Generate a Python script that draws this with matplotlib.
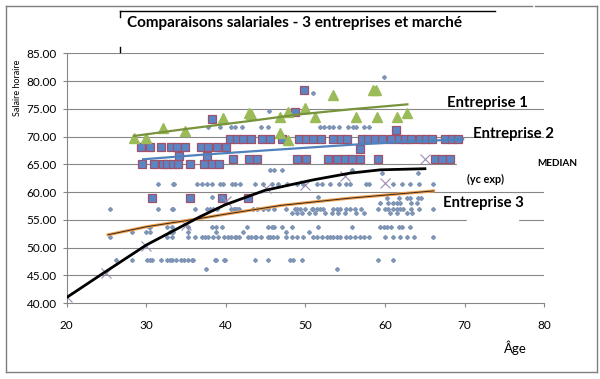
import matplotlib.pyplot as plt
from matplotlib.lines import Line2D
from matplotlib.patches import Rectangle

plt.rcParams["font.family"] = ["Lato", "DejaVu Sans"]

# market sample (small diamonds): one list of ages per salary level
market_levels = [80.7, 77.8, 74.65, 71.8, 64.0, 63.4, 61.4, 59.1, 58.9, 58.0, 57.0, 56.2, 53.75, 52.85, 51.85, 47.8, 46.1]
market_ages = [
    [59.9],
    [50.9],
    [45.4],
    [37.7, 39.2, 40.7, 41.1, 42.0, 44.4, 45.3, 51.8, 52.3, 53.0, 53.5, 54.2, 55.3, 56.0, 56.4, 57.3, 58.0],
    [45.5, 46.0, 47.0, 55.8],
    [59.6, 64.1],
    [31.5, 33.3, 33.5, 36.4, 37.0, 37.6, 38.3, 39.3, 39.6, 40.8, 41.1, 41.8, 43.7, 44.7, 45.8, 46.6,
     47.7, 48.9, 49.7, 51.5, 52.1, 53.1, 54.2, 55.1, 55.6, 57.6, 58.0, 61.0, 62.1, 63.1, 64.2, 66.0],
    [38.2, 51.6],
    [60.2, 61.8, 62.8, 63.1, 64.1, 64.5],
    [59.4, 60.4, 61.0, 61.5, 61.9, 63.2, 64.0],
    [25.4, 31.5, 33.2, 33.4, 36.1, 37.6, 38.0, 38.4, 38.9, 40.7, 41.0, 41.2, 41.4, 41.7, 43.4, 43.9,
     44.7, 45.3, 46.0, 47.6, 48.7, 48.9, 49.3, 49.9, 50.8, 51.0, 51.4, 51.8, 52.2, 53.5, 53.9, 54.3,
     55.1, 55.6, 56.2, 57.0, 59.1, 60.0, 60.4, 61.0, 61.5, 61.9, 62.3, 63.3, 64.2, 66.0],
    [48.3, 48.9, 49.5, 50.5, 51.2, 52.4, 53.3, 54.1, 55.0, 56.4, 57.3, 60.6, 61.5, 62.8, 63.4],
    [30.3, 30.5, 32.6, 33.2, 35.3, 38.2, 38.8, 39.5, 42.6, 45.3, 45.8, 46.0, 47.0, 48.3, 51.6,
     55.8, 59.4, 59.8, 60.2, 60.8, 61.7, 62.1, 63.1],
    [28.2, 29.9, 30.5, 33.0, 33.2, 33.4, 35.3, 38.8, 42.2, 47.6, 50.4],
    [25.4, 32.6, 33.2, 35.3, 36.1, 37.0, 37.4, 37.8, 38.4, 39.0, 39.7, 40.3, 40.7, 41.1, 41.3, 41.7,
     42.8, 43.2, 43.6, 43.8, 44.4, 45.3, 45.5, 45.9, 46.4, 47.6, 48.3, 48.9, 49.7, 51.0, 51.4, 52.1,
     52.7, 53.1, 53.5, 53.9, 54.3, 55.1, 55.6, 56.2, 56.8, 57.4, 58.0, 60.0, 61.0, 61.9, 62.7, 63.6, 66.0],
    [26.2, 28.2, 30.1, 30.5, 30.7, 31.8, 32.6, 33.0, 33.2, 33.7, 34.3, 34.7, 35.3, 35.7, 35.9,
     38.6, 38.8, 39.7, 39.9, 43.7, 45.3, 48.0, 48.4, 49.5, 59.1, 61.0],
    [37.5, 53.9],
]

# Entreprise 1 (triangles)
e1_age = [28.45, 29.9, 32.05, 34.8, 39.6, 42.9, 43.2, 46.8, 47.8, 49.9, 51.2, 53.5, 46.8, 47.8,
          58.5, 58.9, 56.4, 59.0, 61.5, 62.8]
e1_sal = [69.8, 69.7, 71.5, 71.05, 73.3, 74.2, 74.0, 73.6, 74.4, 75.1, 73.6, 77.5, 70.7, 69.4,
          78.4, 78.4, 73.6, 73.6, 73.6, 74.3]
e1_trend_age = [28.45, 34.65, 43.0, 49.3, 55.6, 62.8]
e1_trend_sal = [70.1, 71.3, 72.8, 74.0, 74.9, 75.8]

# Entreprise 2 (squares)
e2_rows = {
    68.1: [29.3, 30.5, 31.8, 33.1, 33.9, 34.9, 36.9, 37.8, 38.9, 40.0],
    65.0: [29.5, 31.0, 32.1, 32.6, 33.4, 34.0, 35.5, 37.3, 38.2, 39.1],
    66.5: [34.1, 37.6],
    69.55: [40.5, 41.4, 42.2, 43.1, 44.5, 45.5, 47.1, 49.2, 50.1, 51.0, 52.0, 53.5, 54.4, 55.2,
            57.1, 57.9, 58.7, 59.6, 60.8, 61.7, 62.5, 63.3, 64.4, 65.2, 65.9, 67.5, 68.4, 69.2],
    66.0: [40.9, 42.9, 43.9, 48.9, 50.1, 52.8, 53.9, 54.9, 55.9, 56.8, 59.1, 66.3, 67.2, 68.2],
    59.0: [30.7, 35.5, 39.5, 42.8],
}
e2_extra_age = [38.2, 49.85, 48.7, 61.4, 56.8]
e2_extra_sal = [73.2, 78.4, 74.5, 71.2, 67.7]
e2_trend_age = [29.6, 36.8, 45.0, 55.6, 63.0, 69.8]
e2_trend_sal = [65.9, 66.7, 67.5, 68.5, 69.1, 69.5]

# Entreprise 3 trend
e3_trend_age = [25.2, 30.05, 36.8, 39.9, 47.0, 55.6, 66.1]
e3_trend_sal = [52.3, 53.75, 55.25, 56.0, 57.6, 58.9, 60.2]

# market median by age (x markers) and its trend
med_age = [20, 25, 30, 35, 40, 45, 50, 55, 60, 65]
med_sal = [41.0, 45.4, 50.3, 54.0, 58.4, 60.8, 61.3, 62.9, 61.7, 66.0]
med_trend_age = [20, 24.2, 30.0, 36.75, 39.9, 44.9, 51.0, 55.6, 59.4, 65.0]
med_trend_sal = [41.0, 45.0, 50.45, 55.55, 57.7, 60.3, 62.2, 63.4, 64.0, 64.2]

W, H = 600, 379
fig = plt.figure(figsize=(W / 100, H / 100), dpi=100)
ax = fig.add_axes([66.7 / W, 1 - 303 / H, (544.3 - 66.7) / W, (303 - 53.3) / H])


def px(x, y):
    return x / W, 1 - y / H


grey = "#868686"
for level in range(45, 90, 5):
    ax.axhline(level, color=grey, lw=0.8, zorder=0)
ax.add_patch(Rectangle((69.0, 64.6), 11.2, 0.8, color="white", zorder=0.5, clip_on=False))
ax.add_patch(Rectangle((70.3, 54.6), 6.4, 0.8, color="white", zorder=0.5))

for level, ages in zip(market_levels, market_ages):
    ax.plot(ages, [level] * len(ages), ls="none", marker="D", ms=2.0, color="#7F95B6", zorder=2)

for level, ages in e2_rows.items():
    ax.plot(ages, [level] * len(ages), ls="none", marker="s", ms=6.2, mfc="#5A86C6",
            mec="#A05068", mew=0.9, zorder=3)
ax.plot(e2_extra_age, e2_extra_sal, ls="none", marker="s", ms=6.2, mfc="#5A86C6",
        mec="#A05068", mew=0.9, zorder=3)
ax.plot(e1_age, e1_sal, ls="none", marker="^", ms=7.5, color="#9BBB59", zorder=3)
ax.plot(med_age, med_sal, ls="none", marker="x", ms=7, mew=0.8, color="#9C8AB5", zorder=4)

ax.plot(e1_trend_age, e1_trend_sal, color="#77933C", lw=1.6, zorder=5)
ax.plot(e2_trend_age, e2_trend_sal, color="#4F81BD", lw=1.6, zorder=5)
ax.plot(e3_trend_age, e3_trend_sal, color="#F0A050", lw=2.2, zorder=5)
ax.plot(e3_trend_age, e3_trend_sal, color="#3A2A1A", lw=0.7, zorder=5)
ax.plot(med_trend_age, med_trend_sal, color="black", lw=2.0, zorder=6)

ax.set_xlim(20, 80)
ax.set_ylim(40, 85)
ax.set_xticks(range(20, 90, 10))
ax.set_yticks(range(40, 90, 5))
ax.yaxis.set_major_formatter(lambda v, p: f"{v:.2f}")
for side in ("top", "right"):
    ax.spines[side].set_visible(False)
for side in ("left", "bottom"):
    ax.spines[side].set_color(grey)
ax.tick_params(direction="out", length=3, color=grey, labelsize=8.5, pad=4)
ax.tick_params(axis="x", pad=9)

fig.text(*px(18, 88), "Salaire horaire", rotation=90, fontsize=6.5, ha="center", va="center")
fig.text(*px(515, 348), "Âge", fontsize=9.5, ha="center", va="center")
fig.text(*px(127, 23), "Comparaisons salariales - 3 entreprises et marché", fontsize=11,
         fontweight="bold", ha="left", va="center")
fig.text(*px(447, 103), "Entreprise 1", fontsize=10.7, fontweight="bold", va="center")
fig.text(*px(473, 134), "Entreprise 2", fontsize=10.7, fontweight="bold", va="center")
fig.text(*px(537, 164), "MEDIAN", fontsize=7.2, fontweight="bold", va="center")
fig.text(*px(467, 179), "(yc exp)", fontsize=7.8, fontweight="bold", va="center")
fig.text(*px(443, 203), "Entreprise 3", fontsize=10.7, fontweight="bold", va="center")

# chart frame and title box
frame = "#7F7F7F"
for seg in [((6, 6), (532, 6)), ((535, 6), (597, 6)), ((597, 6), (597, 372)),
            ((597, 372), (6, 372)), ((6, 372), (6, 6))]:
    (x0, y0), (x1, y1) = seg
    fig.add_artist(Line2D([x0 / W, x1 / W], [1 - y0 / H, 1 - y1 / H], color=frame, lw=1))
for seg in [((120, 11), (495, 11)), ((120, 11), (120, 17)), ((120, 47), (120, 52))]:
    (x0, y0), (x1, y1) = seg
    fig.add_artist(Line2D([x0 / W, x1 / W], [1 - y0 / H, 1 - y1 / H], color="black", lw=1))

fig.savefig("out.png", dpi=100)
